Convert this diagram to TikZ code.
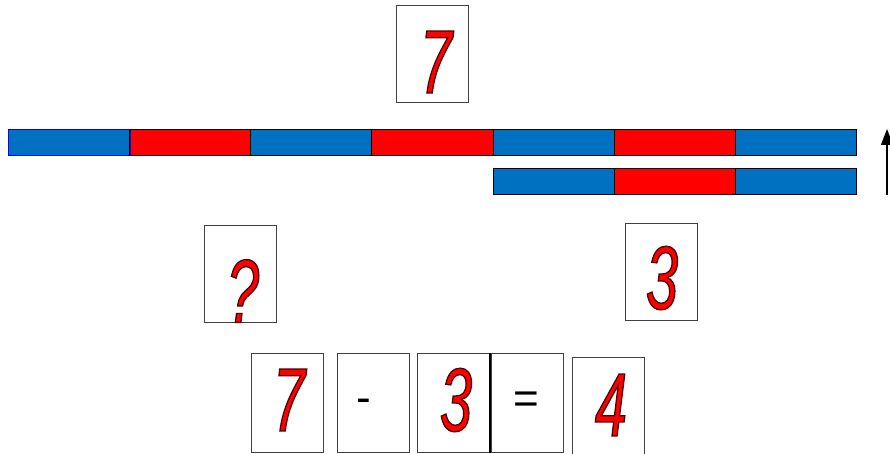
\documentclass[tikz,border=0pt]{standalone}
\usepackage{fontspec}
\setmainfont{Liberation Sans}
\newfontfamily\cardfont[FakeStretch=0.64]{Liberation Sans}
\usetikzlibrary{arrows.meta, positioning}
\definecolor{barblue}{HTML}{0070C0}
\definecolor{barred}{HTML}{FF0000}
\definecolor{cardred}{HTML}{FF0000}
% red figures with a dark rim
\newcommand{\rimmed}[1]{\special{pdf:literal direct 2 Tr 1.3 w 0.3 0 0 RG}#1\special{pdf:literal direct 0 Tr}}

\begin{document}
\begin{tikzpicture}[
    x=1pt, y=-1pt,
    card/.style={rectangle, draw=black!75, line width=0.9pt, fill=white,
                 minimum width=72pt, minimum height=97pt, inner sep=0pt},
    figure/.style={font=\cardfont\itshape\fontsize{90}{90}\selectfont,
                   text=cardred, inner sep=0pt},
    sign/.style={font=\fontsize{44}{44}\selectfont, inner sep=0pt},
    seg/.style={rectangle, draw=black, line width=0.8pt, fill=#1,
                minimum width=121.1pt, minimum height=26pt, inner sep=0pt,
                anchor=north west},
]
    \useasboundingbox (0,0) rectangle (890,454);

    % Whole: seven
    \node[card] (whole) at (432,54) {};
    \node[figure] (wholefig) at (436,62) {\rimmed{7}};

    % Bars
    \foreach \c [count=\i] in {barblue,barred,barblue,barred,barblue,barred,barblue}
        \node[seg=\c] (long\i) at ({8+(\i-1)*121.14},129) {};
    \draw[blue, line width=0.8pt] (long1.north west) rectangle (long1.south east);
    \foreach \c [count=\i] in {barblue,barred,barblue}
        \node[seg=\c] (short\i) at ({493+(\i-1)*121},168) {};

    % Arrow
    \coordinate (arrlow) at (887,195);
    \coordinate (arrtop) at (887,129);
    \draw[-{Triangle[length=16pt, width=12pt]}, line width=1.4pt] (arrlow) -- (arrtop);

    % Parts
    \node[card] (unknown) at (240,274) {};
    \node[figure] (unknownfig) at (243,291) {\rimmed{?}};
    \node[card] (part) at (661,272) {};
    \node[figure] (partfig) at (662,278) {\rimmed{3}};

    % Equation
    \node[card, minimum height=99pt] (eqa) at (287,403) {};
    \node[figure] (eqafig) at (289,400) {\rimmed{7}};
    \node[card, minimum height=99pt] (eqminus) at (373,403) {};
    \node[sign] (minus) at (364,406) {-};
    \node[card, minimum height=99pt] (eqb) at (453.5,403) {};
    \node[figure] (eqbfig) at (456,400) {\rimmed{3}};
    \node[card, minimum height=99pt] (eqeq) at (527,403) {};
    \node[sign] (equals) at (526,403) {=};
    \draw[line width=1.6pt] (eqb.north east) -- (eqb.south east);
    \node[card] (eqc) at (608,406) {};
    \node[figure] (eqcfig) at (611,405) {\rimmed{4}};
\end{tikzpicture}
\end{document}
